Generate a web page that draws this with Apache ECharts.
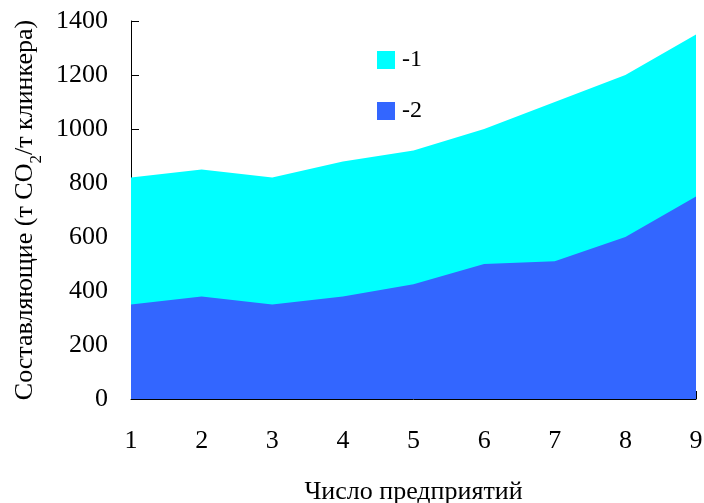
<!DOCTYPE html>
<html>
<head>
<meta charset="utf-8">
<script src="https://cdn.jsdelivr.net/npm/echarts@6/dist/echarts.min.js"></script>
<style>html,body{margin:0;padding:0;background:#fff;overflow:hidden}#c{width:704px;height:503px}</style>
</head>
<body>
<div id="c"></div>
<script>
var categories = ['1','2','3','4','5','6','7','8','9'];
var series1 = [820, 850, 820, 880, 920, 1000, 1100, 1200, 1350];
var series2 = [350, 380, 350, 380, 425, 500, 510, 600, 750];
var yTicks = [0, 200, 400, 600, 800, 1000, 1200, 1400];

var font = '"Liberation Serif", "Times New Roman", serif';
var chart = echarts.init(document.getElementById('c'), null, {width: 704, height: 503});
chart.setOption({
  animation: false,
  backgroundColor: '#fff',
  grid: {left: 131, right: 8, top: 21, bottom: 104, containLabel: false, outerBoundsMode: 'none'},
  legend: {
    orient: 'vertical', left: 377, top: 48, padding: 0,
    itemWidth: 18, itemHeight: 18, itemGap: 27, icon: 'rect',
    textStyle: {fontFamily: font, fontSize: 24, color: '#000', padding: [0, 0, 0, 2]},
    data: ['-1', '-2']
  },
  xAxis: {
    type: 'category', data: categories, boundaryGap: false,
    name: 'Число предприятий', nameLocation: 'middle', nameGap: 80,
    nameTextStyle: {fontFamily: font, fontSize: 26, color: '#000'},
    axisLine: {lineStyle: {color: '#000', width: 1}},
    axisTick: {inside: true, length: 8, lineStyle: {color: '#000'}},
    axisLabel: {fontFamily: font, fontSize: 26, color: '#000', margin: 29},
    splitLine: {show: false}
  },
  yAxis: {
    type: 'value', min: yTicks[0], max: yTicks[yTicks.length-1], interval: 200,
    name: '{a|Составляющие (т CO}{s|2}{a|/т клинкера)}',
    nameLocation: 'middle', nameRotate: 90, nameGap: 90,
    nameTextStyle: {
      fontFamily: font, fontSize: 26, color: '#000',
      rich: {
        a: {fontFamily: font, fontSize: 26, color: '#000'},
        s: {fontFamily: font, fontSize: 17, color: '#000', verticalAlign: 'bottom', lineHeight: 17, padding: [0,0,-7,0]}
      }
    },
    axisLine: {show: true, lineStyle: {color: '#000', width: 1}},
    axisTick: {show: true, inside: true, length: 8, lineStyle: {color: '#000'}},
    axisLabel: {fontFamily: font, fontSize: 26, color: '#000', margin: 23,
      formatter: function (v) { return String(v); }},
    splitLine: {show: false}
  },
  series: [
    {name: '-1', type: 'line', data: series1, symbol: 'none', color: '#00FFFF',
     lineStyle: {width: 0}, areaStyle: {color: '#00FFFF', opacity: 1}, z: 1},
    {name: '-2', type: 'line', data: series2, symbol: 'none', color: '#3366FF',
     lineStyle: {width: 0}, areaStyle: {color: '#3366FF', opacity: 1}, z: 2}
  ]
});
</script>
</body>
</html>
